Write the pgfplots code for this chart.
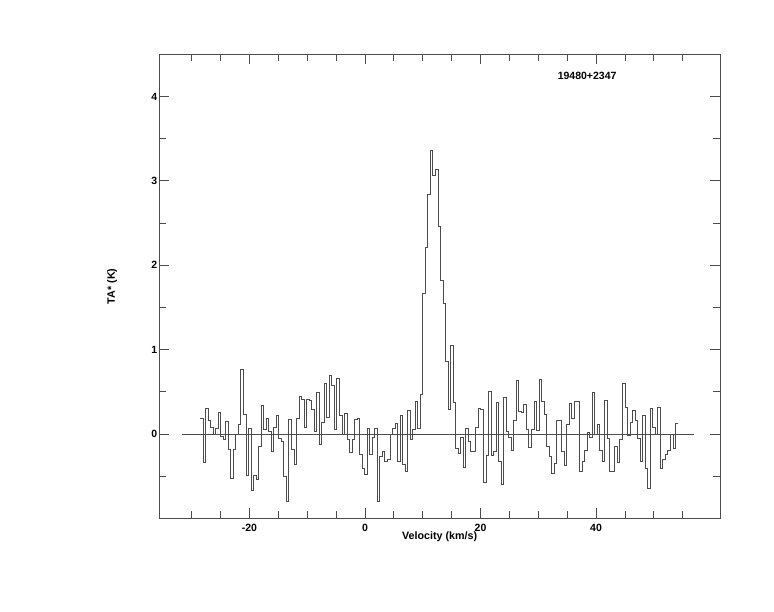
\documentclass[border=0pt]{standalone}
\usepackage{fontspec}
\setmainfont{Liberation Sans}
\usepackage{pgfplots}
\pgfplotsset{compat=1.18}
\pgfplotstableread{
v y
-28.48 0.18
-28.04 -0.34
-27.61 0.30
-27.17 0.16
-26.73 0.08
-26.29 -0.01
-25.86 0.06
-25.42 0.26
-24.98 -0.03
-24.54 -0.07
-24.11 0.15
-23.67 -0.18
-23.23 -0.53
-22.80 -0.18
-22.36 0.00
-21.92 0.11
-21.48 0.77
-21.05 0.23
-20.61 -0.49
-20.17 0.06
-19.73 -0.67
-19.30 -0.49
-18.86 -0.54
-18.42 -0.15
-17.98 0.34
-17.55 0.05
-17.11 0.18
-16.67 0.03
-16.24 -0.21
-15.80 0.08
-15.36 0.22
-14.92 -0.05
-14.49 -0.09
-14.05 -0.50
-13.61 -0.80
-13.17 0.17
-12.74 -0.18
-12.30 -0.36
-11.86 0.18
-11.43 0.44
-10.99 0.41
-10.55 0.08
-10.11 0.41
-9.68 0.40
-9.24 0.29
-8.80 0.03
-8.36 0.49
-7.93 -0.13
-7.49 0.14
-7.05 0.60
-6.62 0.20
-6.18 0.69
-5.74 0.57
-5.30 0.05
-4.87 0.66
-4.43 0.22
-3.99 -0.01
-3.55 0.24
-3.12 -0.07
-2.68 -0.22
-2.24 -0.07
-1.81 0.17
-1.37 0.18
-0.93 -0.24
-0.49 -0.41
-0.06 -0.48
0.38 0.07
0.82 -0.24
1.26 -0.04
1.69 0.07
2.13 -0.80
2.57 -0.27
3.01 -0.21
3.44 -0.32
3.88 -0.30
4.32 0.00
4.75 0.06
5.19 0.12
5.63 -0.33
6.07 0.22
6.50 -0.36
6.94 -0.45
7.38 0.28
7.82 -0.07
8.25 0.05
8.69 0.39
9.13 0.06
9.56 0.47
10.00 1.66
10.44 2.21
10.88 2.84
11.31 3.36
11.75 3.07
12.19 3.14
12.63 2.46
13.06 1.82
13.50 1.55
13.94 0.86
14.38 0.29
14.81 1.05
15.25 0.37
15.69 -0.17
16.12 -0.23
16.56 -0.04
17.00 -0.40
17.44 0.06
17.87 -0.09
18.31 -0.21
18.75 -0.21
19.19 0.08
19.62 0.30
20.06 0.29
20.50 -0.57
20.93 -0.26
21.37 0.51
21.81 -0.26
22.25 -0.21
22.68 0.37
23.12 -0.33
23.56 -0.60
24.00 0.43
24.43 0.03
24.87 -0.04
25.31 -0.19
25.75 0.16
26.18 0.64
26.62 0.27
27.06 0.26
27.49 0.35
27.93 0.05
28.37 -0.16
28.81 0.05
29.24 0.39
29.68 0.04
30.12 0.65
30.56 0.39
30.99 0.23
31.43 -0.15
31.87 -0.27
32.30 -0.47
32.74 -0.35
33.18 0.16
33.62 0.16
34.05 -0.21
34.49 -0.37
34.93 0.11
35.37 0.36
35.80 0.18
36.24 0.39
36.68 0.38
37.12 -0.45
37.55 -0.33
37.99 -0.19
38.43 0.02
38.86 -0.04
39.30 0.49
39.74 -0.01
40.18 0.11
40.61 -0.19
41.05 -0.33
41.49 0.40
41.93 -0.05
42.36 -0.45
42.80 -0.44
43.24 -0.15
43.67 -0.34
44.11 -0.06
44.55 0.60
44.99 0.32
45.42 -0.02
45.86 0.14
46.30 0.28
46.74 0.16
47.17 -0.05
47.61 -0.32
48.05 0.22
48.48 -0.41
48.92 -0.65
49.36 0.30
49.80 0.08
50.23 0.00
50.67 0.31
51.11 -0.41
51.55 -0.30
51.98 -0.24
52.42 -0.20
52.86 0.00
53.30 -0.17
53.73 0.12
54.17 0.12
}\spectrum
\begin{document}
\begin{tikzpicture}[x=1pt,y=1pt]
\path[use as bounding box] (0,0) rectangle (774,612);
\begin{axis}[
  at={(159.3pt,93.7pt)}, anchor=south west,
  scale only axis, width=560.7pt, height=464pt,
  xmin=-35.6, xmax=61.45, ymin=-1, ymax=4.5,
  axis line style={black!70, line width=0.8pt},
  tick style={black!70, line width=0.8pt},
  tick align=inside,
  xtick pos=both, ytick pos=both,
  major tick length=10pt, minor tick length=7pt,
  xtick={-20,0,20,40}, xticklabels={-20,0,20,40},
  minor xtick={-30,-25,-15,-10,-5,5,10,15,25,30,35,45,50,55},
  ytick={0,1,2,3,4}, yticklabels={0,1,2,3,4},
  minor ytick={-0.5,0.5,1.5,2.5,3.5},
  ticklabel style={font=\fontsize{10.5}{12}\selectfont\bfseries},
  xticklabel style={inner sep=0pt, anchor=north, yshift=-5.3pt},
  yticklabel style={inner sep=0pt, anchor=east, xshift=-1.8pt},
  label style={font=\fontsize{10.7}{12}\selectfont\bfseries},
  xlabel={Velocity (km/s)},
  xlabel style={at={(axis description cs:0.5,-0.0388)}, anchor=center},
  ylabel={TA* (K)},
  ylabel style={at={(axis description cs:-0.084,0.5)}, anchor=center},
  clip=false,
]
\addplot[black!70, line width=0.8pt] coordinates {(-31.6,0) (57.0,0)};
\addplot[const plot mark left, black!70, line width=0.8pt, mark=none] table[x=v,y=y] {\spectrum};
\node[font=\fontsize{10.5}{12}\selectfont\bfseries, anchor=center] at (axis description cs:0.763,0.953) {19480+2347};
\end{axis}
\end{tikzpicture}
\end{document}
